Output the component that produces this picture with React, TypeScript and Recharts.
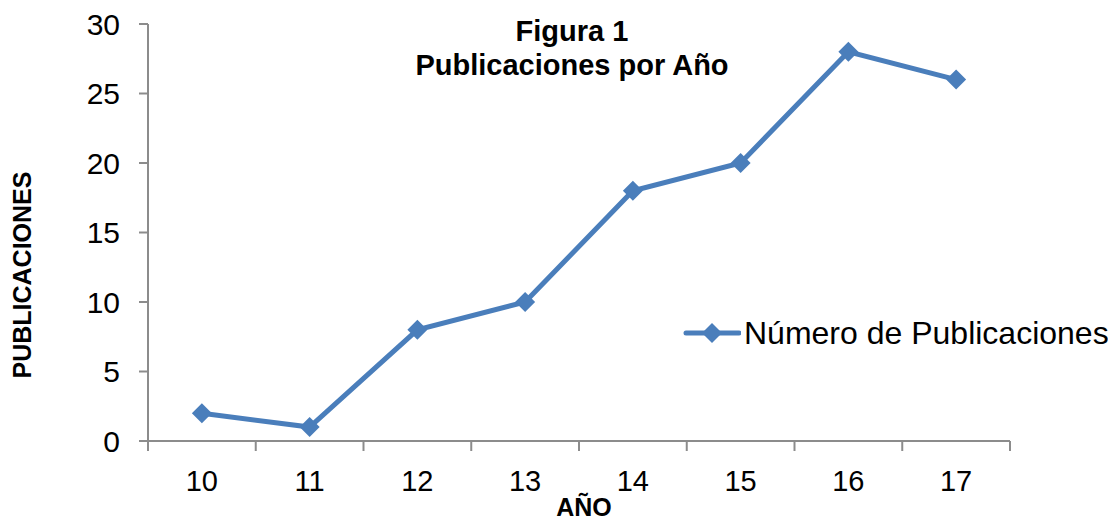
import { LineChart, Line, XAxis, YAxis } from 'recharts';

const years = ['10', '11', '12', '13', '14', '15', '16', '17'];
const publicaciones = [2, 1, 8, 10, 18, 20, 28, 26];
const yTicks = [0, 5, 10, 15, 20, 25, 30];

const data = years.map((year, i) => ({ year, value: publicaciones[i] }));

const BLUE = '#4a7ebb';
const AXIS = '#8c8c8c';
const FONT = '"Liberation Sans", Arial, sans-serif';

function Diamond(props: any) {
  const { cx, cy } = props;
  if (cx == null || cy == null) return null;
  const r = 10;
  return (
    <polygon
      points={`${cx},${cy - r} ${cx + r},${cy} ${cx},${cy + r} ${cx - r},${cy}`}
      fill={BLUE}
    />
  );
}

// Excel-style category axis: tick marks sit between categories, label in the middle
function YearTick(props: any) {
  const { x, y, payload, index } = props;
  const half = payload.offset ?? 0;
  return (
    <g>
      <line x1={x - half} x2={x - half} y1={y} y2={y + 10} stroke={AXIS} strokeWidth={2} />
      {index === years.length - 1 && (
        <line x1={x + half} x2={x + half} y1={y} y2={y + 10} stroke={AXIS} strokeWidth={2} />
      )}
      <text x={x} y={y + 50} textAnchor="middle" fontSize={29} fontFamily={FONT} fill="#000">
        {payload.value}
      </text>
    </g>
  );
}

export default function App() {
  return (
    <div style={{ position: 'absolute', left: 0, top: 0, width: 1108, height: 521, background: '#fff', fontFamily: FONT, overflow: 'hidden' }}>
      <LineChart width={1108} height={521} data={data} margin={{ top: 24, right: 98, bottom: 0, left: 0 }}>
        <XAxis
          dataKey="year"
          scale="band"
          tickLine={false}
          tickSize={0}
          tickMargin={0}
          height={80}
          stroke={AXIS}
          strokeWidth={2}
          interval={0}
          tick={<YearTick />}
        />
        <YAxis
          domain={[0, 30]}
          ticks={yTicks}
          width={148}
          tickSize={9}
          tickMargin={19}
          stroke={AXIS}
          strokeWidth={2}
          tick={{ fill: '#000', fontSize: 30, fontFamily: FONT }}
        />
        <Line
          dataKey="value"
          stroke={BLUE}
          strokeWidth={5}
          dot={<Diamond />}
          activeDot={false}
          isAnimationActive={false}
        />
      </LineChart>

      <div style={{ position: 'absolute', left: 0, top: 14, width: 1144, textAlign: 'center', fontWeight: 'bold', fontSize: 29, lineHeight: '34px', color: '#000' }}>
        Figura 1<br />Publicaciones por Año
      </div>

      <div style={{ position: 'absolute', left: 148, top: 495, width: 872, textAlign: 'center', fontWeight: 'bold', fontSize: 25, lineHeight: '25px', color: '#000' }}>
        AÑO
      </div>

      <div style={{ position: 'absolute', left: 22, top: 275, transform: 'translate(-50%, -50%) rotate(-90deg)', fontWeight: 'bold', fontSize: 25, color: '#000', whiteSpace: 'nowrap' }}>
        PUBLICACIONES
      </div>

      <div style={{ position: 'absolute', left: 683, top: 314, display: 'flex', alignItems: 'center', fontSize: 32, color: '#000', whiteSpace: 'nowrap' }}>
        <svg width={58} height={38}>
          <line x1={3} y1={19} x2={56} y2={19} stroke={BLUE} strokeWidth={5} strokeLinecap="round" />
          <polygon points="29,9 39,19 29,29 19,19" fill={BLUE} />
        </svg>
        <span style={{ marginLeft: 3 }}>Número de Publicaciones</span>
      </div>
    </div>
  );
}
